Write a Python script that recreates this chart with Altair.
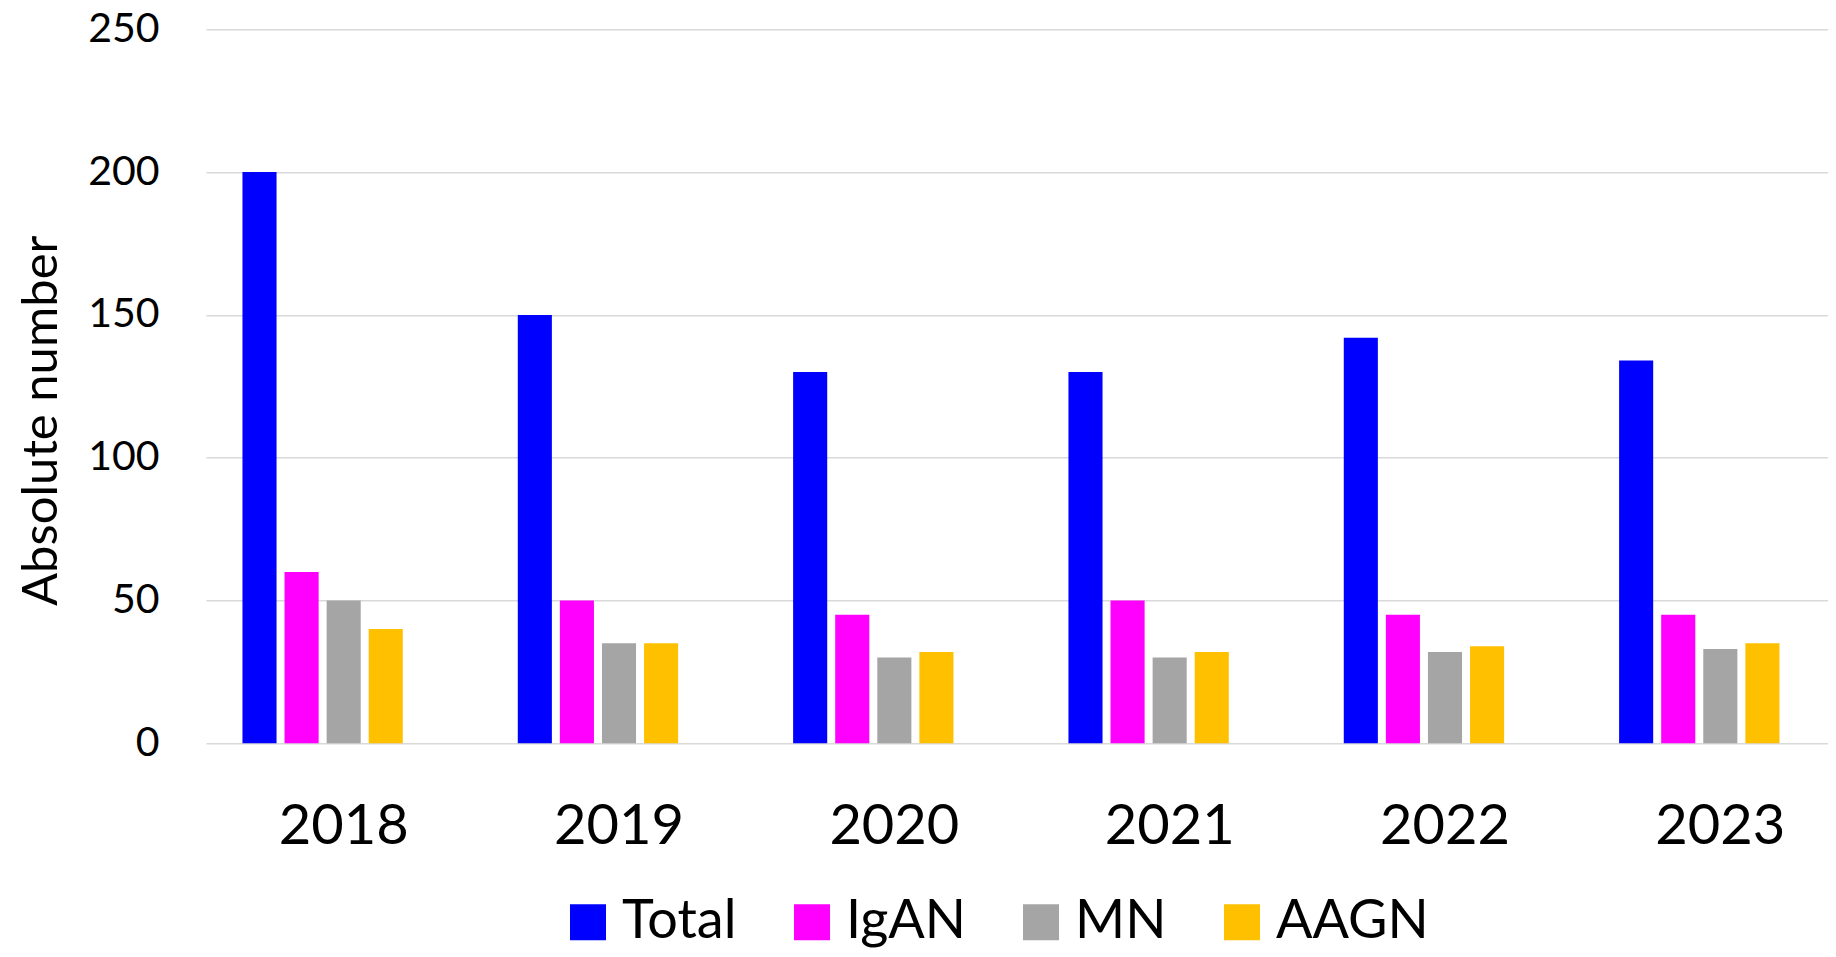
import altair as alt
import pandas as pd

years = ["2018", "2019", "2020", "2021", "2022", "2023"]
series = ["Total", "IgAN", "MN", "AAGN"]
total = [200, 150, 130, 130, 142, 134]
igan = [60, 50, 45, 50, 45, 45]
mn = [50, 35, 30, 30, 32, 33]
aagn = [40, 35, 32, 32, 34, 35]
colors = ["#0000FF", "#FF00FF", "#A5A5A5", "#FFC000"]
y_ticks = [0, 50, 100, 150, 200, 250]

rows = []
for s, vals in zip(series, [total, igan, mn, aagn]):
    for yr, v in zip(years, vals):
        rows.append({"Year": yr, "Series": s, "Value": v})
df = pd.DataFrame(rows)

FONT = "Lato"
W, H = 1622, 714

chart = alt.Chart(df).mark_bar().encode(
    x=alt.X(
        "Year:N", sort=years,
        scale=alt.Scale(range=[0, 1652], paddingInner=0.2357, paddingOuter=0.1179),
        axis=alt.Axis(title=None, labelAngle=0, labelFontSize=56, labelPadding=56,
                      ticks=False, domain=False, grid=False, labelColor="black",
                      labelFont=FONT),
    ),
    xOffset=alt.XOffset(
        "Series:N",
        scale=alt.Scale(domain=series + ["_"], paddingInner=0.19, paddingOuter=0.095),
    ),
    y=alt.Y(
        "Value:Q",
        scale=alt.Scale(domain=[0, 250]),
        axis=alt.Axis(values=y_ticks, title="Absolute number", labelFontSize=41,
                      labelPadding=47, ticks=False, domain=False, grid=True,
                      gridColor="#D9D9D9", gridWidth=1.5, labelColor="black",
                      labelFont=FONT, titleFont=FONT, titleFontSize=49,
                      titleFontWeight="normal", titleColor="black",
                      titleAngle=270, titleX=-165, titleY=391,
                      titleAlign="center", titleBaseline="middle"),
    ),
    color=alt.Color(
        "Series:N",
        scale=alt.Scale(domain=series, range=colors),
        legend=alt.Legend(title=None, orient="none", legendX=355, legendY=866,
                          direction="horizontal", symbolType="square",
                          symbolSize=1296, symbolStrokeWidth=0,
                          labelFontSize=54, labelFont=FONT, labelColor="black",
                          labelOffset=7, columnPadding=48, padding=0,
                          labelLimit=500),
    ),
).properties(
    width=W, height=H,
    autosize=alt.AutoSizeParams(type="none"),
    padding={"left": 198, "top": 21.3, "right": 0, "bottom": 205.7},
).configure_view(stroke=None)

chart.save("out.html", embed_options={"renderer": "svg", "actions": False})
